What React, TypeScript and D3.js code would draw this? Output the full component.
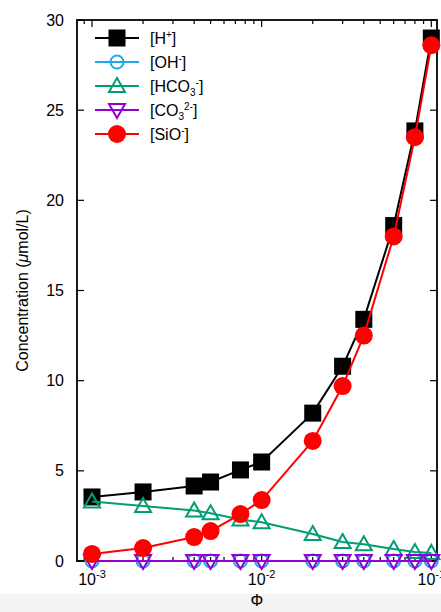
import React from 'react';
import * as d3 from 'd3';

const phi = [0.001, 0.002, 0.004, 0.005, 0.0075, 0.01, 0.02, 0.03, 0.04, 0.06, 0.08, 0.1];
const hPlus = [3.55, 3.83, 4.16, 4.38, 5.05, 5.49, 8.2, 10.8, 13.4, 18.6, 23.85, 29.0];
const ohMinus = [0, 0, 0, 0, 0, 0, 0, 0, 0, 0, 0, 0];
const hco3 = [3.3, 3.05, 2.8, 2.65, 2.3, 2.15, 1.5, 1.05, 0.93, 0.66, 0.5, 0.45];
const co3 = [0, 0, 0, 0, 0, 0, 0, 0, 0, 0, 0, 0];
const sio = [0.39, 0.72, 1.33, 1.66, 2.6, 3.38, 6.66, 9.7, 12.5, 18.0, 23.5, 28.6];
const yTicks = [0, 5, 10, 15, 20, 25, 30];
const xMajor = [1e-3, 1e-2, 1e-1];
const xExp = ['-3', '-2', '-1'];

const series = [
  { key: 'H', values: hPlus, color: '#000000', marker: 'square' },
  { key: 'OH', values: ohMinus, color: '#1eaae6', marker: 'circleOpen' },
  { key: 'HCO3', values: hco3, color: '#009e73', marker: 'triUp' },
  { key: 'CO3', values: co3, color: '#9400d3', marker: 'triDown' },
  { key: 'SiO', values: sio, color: '#ff0000', marker: 'circle' },
];

const W = 441;
const H = 612;
const left = 77;
const right = 437;
const top = 20;
const bottom = 561;

const x = d3.scaleLog().domain([8.16e-4, 0.108]).range([left, right]);
const y = d3.scaleLinear().domain([0, 30]).range([bottom, top]);

function Marker({ type, cx, cy, color }: { type: string; cx: number; cy: number; color: string }) {
  if (type === 'square') {
    return <rect x={cx - 8.5} y={cy - 8.5} width={17} height={17} fill={color} />;
  }
  if (type === 'circle') {
    return <circle cx={cx} cy={cy} r={9} fill={color} />;
  }
  if (type === 'circleOpen') {
    return <circle cx={cx} cy={cy} r={6.5} fill="none" stroke={color} strokeWidth={2} />;
  }
  if (type === 'triUp') {
    const p = d3.path();
    p.moveTo(cx, cy - 8);
    p.lineTo(cx + 8, cy + 6);
    p.lineTo(cx - 8, cy + 6);
    p.closePath();
    return <path d={p.toString()} fill="none" stroke={color} strokeWidth={2} />;
  }
  const p = d3.path();
  p.moveTo(cx, cy + 8);
  p.lineTo(cx + 8, cy - 6);
  p.lineTo(cx - 8, cy - 6);
  p.closePath();
  return <path d={p.toString()} fill="none" stroke={color} strokeWidth={2} />;
}

function LegendLabel({ k }: { k: string }) {
  if (k === 'H') return <>[H<tspan dy={-6} fontSize={10}>+</tspan><tspan dy={6}>]</tspan></>;
  if (k === 'OH') return <>[OH<tspan dy={-6} fontSize={10}>-</tspan><tspan dy={6}>]</tspan></>;
  if (k === 'HCO3')
    return <>[HCO<tspan dy={4} fontSize={10}>3</tspan><tspan dy={-10} fontSize={10}>-</tspan><tspan dy={6}>]</tspan></>;
  if (k === 'CO3')
    return <>[CO<tspan dy={4} fontSize={10}>3</tspan><tspan dy={-10} fontSize={10}>2-</tspan><tspan dy={6}>]</tspan></>;
  return <>[SiO<tspan dy={-6} fontSize={10}>-</tspan><tspan dy={6}>]</tspan></>;
}

export default function App() {
  const line = d3.line<number>().x((_, i) => x(phi[i])).y((d) => y(d));
  const minorX: number[] = [];
  for (let e = -4; e <= -1; e++) {
    for (let m = 1; m <= 9; m++) {
      const v = m * Math.pow(10, e);
      if (v >= x.domain()[0] && v <= x.domain()[1]) minorX.push(v);
    }
  }
  const font = 'Liberation Sans, Arial, sans-serif';
  return (
    <svg width={W} height={H} style={{ position: 'absolute', left: 0, top: 0, background: '#fff' }} fontFamily={font}>
      <rect x={0} y={594} width={W} height={H - 594} fill="#f3f3f3" />
      {/* frame and ticks, behind the data as in gnuplot */}
      <rect x={left} y={top} width={right - left} height={bottom - top} fill="none" stroke="#000" strokeWidth={1.8} />
      {yTicks.map((t) => (
        <g key={'y' + t}>
          <line x1={left} x2={left + 7} y1={y(t)} y2={y(t)} stroke="#000" strokeWidth={1.2} />
          <line x1={right} x2={right - 7} y1={y(t)} y2={y(t)} stroke="#000" strokeWidth={1.2} />
          <text x={left - 13} y={y(t) + 5.5} textAnchor="end" fontSize={16}>{t}</text>
        </g>
      ))}
      {minorX.map((v) => {
        const major = xMajor.some((m) => Math.abs(m - v) < 1e-9);
        const len = major ? 7 : 4;
        return (
          <g key={'x' + v}>
            <line x1={x(v)} x2={x(v)} y1={bottom} y2={bottom - len} stroke="#000" strokeWidth={1.2} />
            <line x1={x(v)} x2={x(v)} y1={top} y2={top + len} stroke="#000" strokeWidth={1.2} />
          </g>
        );
      })}
      {xMajor.map((v, i) => (
        <text key={'xl' + v} x={x(v)} y={585} textAnchor="middle" fontSize={16}>
          10<tspan dy={-7} fontSize={11}>{xExp[i]}</tspan>
        </text>
      ))}
      {/* series */}
      {series.map((s) => (
        <g key={s.key}>
          <path d={line(s.values) || ''} fill="none" stroke={s.color} strokeWidth={2} />
          {s.values.map((v, i) => (
            <Marker key={i} type={s.marker} cx={x(phi[i])} cy={y(v)} color={s.color} />
          ))}
        </g>
      ))}
      {/* legend */}
      {series.map((s, i) => {
        const ly = 38 + i * 24;
        return (
          <g key={'lg' + s.key}>
            <line x1={95} x2={139} y1={ly} y2={ly} stroke={s.color} strokeWidth={2} />
            <Marker type={s.marker} cx={117} cy={ly} color={s.color} />
            <text x={150} y={ly + 6} fontSize={16}>
              <LegendLabel k={s.key} />
            </text>
          </g>
        );
      })}
      <text transform={`translate(28,${(top + bottom) / 2}) rotate(-90)`} textAnchor="middle" fontSize={16}>
        Concentration (<tspan fontStyle="italic">μ</tspan>mol/L)
      </text>
      <text x={(left + right) / 2} y={606} textAnchor="middle" fontSize={16}>Φ</text>
    </svg>
  );
}
